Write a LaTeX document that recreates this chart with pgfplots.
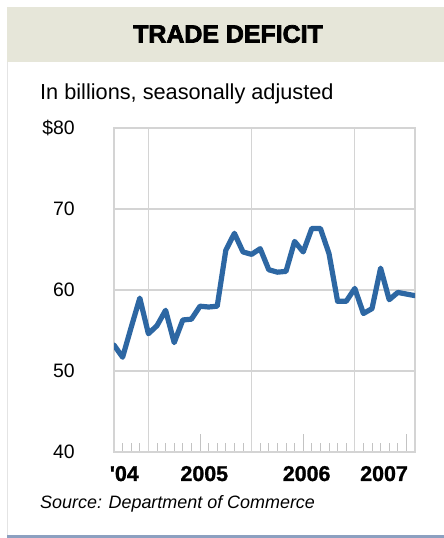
\documentclass[border=0pt]{standalone}
\usepackage{fontspec}
\setmainfont{Liberation Sans}
\newfontfamily\titlefont{Liberation Sans}[BoldFeatures={FakeBold=3}]
\newfontfamily\yearfont{Liberation Sans}[BoldFeatures={FakeBold=1.2}]
\usepackage{pgfplots}
\pgfplotsset{compat=1.18}
\usepackage{pgfplotstable}

\definecolor{band}{RGB}{230,230,217}
\definecolor{gridgray}{RGB}{212,212,212}
\definecolor{tickgray}{RGB}{195,195,195}
\definecolor{lineblue}{RGB}{45,103,163}
\definecolor{edgeblue}{RGB}{140,160,192}
\definecolor{edgegray}{RGB}{228,228,228}

% monthly trade deficit, billions of dollars (month 0 = Sep 2004)
\pgfplotstableread{
m  v
0  53.2
1  51.7
2  55.4
3  59.0
4  54.6
5  55.6
6  57.5
7  53.5
8  56.3
9  56.4
10 58.0
11 57.9
12 58.0
13 64.9
14 67.0
15 64.7
16 64.4
17 65.1
18 62.5
19 62.2
20 62.3
21 66.0
22 64.7
23 67.6
24 67.6
25 64.5
26 58.6
27 58.6
28 60.2
29 57.1
30 57.7
31 62.7
32 58.8
33 59.7
34 59.5
35 59.3
}\deficit

\begin{document}
\begin{tikzpicture}
\useasboundingbox (0,0) rectangle (444bp,538bp);
\fill[white] (0,0) rectangle (444bp,538bp);
\fill[band] (7bp,476bp) rectangle (444bp,531bp);
\draw[edgegray, line width=1bp] (7.5bp,476bp) -- (7.5bp,2bp);
\fill[edgeblue] (7bp,0bp) rectangle (444bp,2.5bp);

\node[font=\titlefont\bfseries\fontsize{25}{30}\selectfont] at (228bp,504bp) {TRADE DEFICIT};
\node[anchor=base west, inner sep=0pt, font=\fontsize{21.8}{25}\selectfont]
  at (40bp,438bp) {In billions, seasonally adjusted};
\node[anchor=base west, inner sep=0pt, font=\itshape\fontsize{18}{22}\selectfont]
  at (40bp,30bp) {Source: Department of Commerce};

\begin{axis}[
  at={(114bp,86bp)}, anchor=south west,
  scale only axis, width=301bp, height=324bp,
  xmin=0, xmax=35, ymin=40, ymax=80,
  axis line style={draw=gridgray, line width=1.2bp},
  ytick={40,50,60,70,80},
  yticklabels={40,50,60,70,\$80},
  ymajorgrids,
  grid style={draw=gridgray, line width=1.2bp},
  ytick style={draw=none},
  yticklabel style={font=\fontsize{19.5}{20}\selectfont, anchor=east, inner sep=0pt, xshift=-39bp},
  xtick={10,22,34},
  xticklabels={},
  minor xtick={1,2,3,5,6,7,8,9,11,12,13,14,15,17,18,19,20,21,23,24,25,26,27,29,30,31,32,33},
  major tick length=18bp, minor tick length=9bp,
  tick align=inside, xtick pos=bottom,
  xtick style={draw=tickgray, line width=1bp},
  extra x ticks={4,16,28}, extra x tick labels={},
  extra x tick style={grid=major, major tick length=0pt},
  clip mode=individual,
]
\addplot[lineblue, line width=5.2bp, line join=round, line cap=round] table[x=m, y=v] {\deficit};
\node[anchor=base, yshift=-29bp, font=\yearfont\bfseries\fontsize{21.5}{24}\selectfont] at (axis cs:1.2,40) {'04};
\node[anchor=base, yshift=-29bp, font=\yearfont\bfseries\fontsize{21.5}{24}\selectfont] at (axis cs:10.5,40) {2005};
\node[anchor=base, yshift=-29bp, font=\yearfont\bfseries\fontsize{21.5}{24}\selectfont] at (axis cs:22.4,40) {2006};
\node[anchor=base, yshift=-29bp, font=\yearfont\bfseries\fontsize{21.5}{24}\selectfont] at (axis cs:31.4,40) {2007};
\end{axis}
\end{tikzpicture}
\end{document}
